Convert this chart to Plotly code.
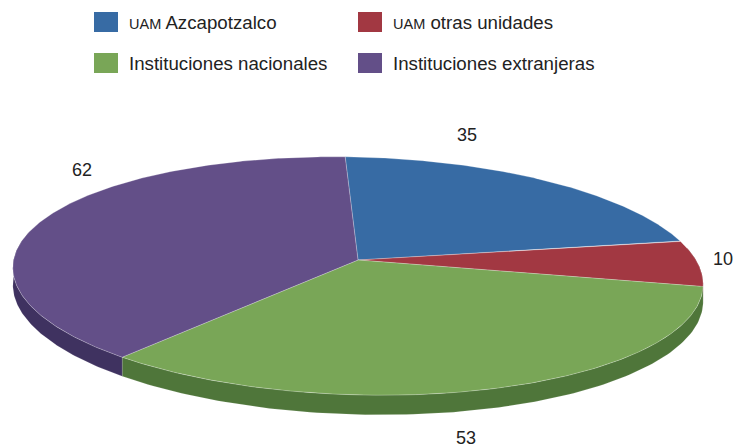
import numpy as np
import plotly.graph_objects as go

# ---- data ----
categories = [
    "<span style='font-size:14.5px'>UAM</span> Azcapotzalco",
    "<span style='font-size:14.5px'>UAM</span> otras unidades",
    "Instituciones nacionales",
    "Instituciones extranjeras",
]
values = [35, 10, 53, 62]
value_labels = [str(v) for v in values]

# ---- style ----
top_colors = ["#376BA4", "#A23842", "#79A657", "#634F88"]
side_colors = ["#264C75", "#72272E", "#4F763A", "#3F3260"]
FONT = "Liberation Sans, Arial, Helvetica, sans-serif"
W, H = 738, 448
apex = (358.0, 260.0)      # projected centre of the pie
fk = 342.0                 # horizontal radius in px
kc = 0.1345                # perspective factor
sin_tilt = 0.3415          # view elevation
skew = 0.024               # slight rotation of the disc
base_depth = 17.0
start_deg = -2.44
label_pos = [(467, 135), (723, 259), (466, 438), (82, 170)]
legend_sq = [(94, 12), (358, 12), (94, 53), (358, 53)]


def pt(phi_deg, thick=False):
    p = np.radians(phi_deg)
    D = 1.0 + kc * np.cos(p)
    sx = fk * np.sin(p) / D
    sy = -fk * sin_tilt * np.cos(p) / D
    x = apex[0] + sx
    y = apex[1] + sy + skew * sx
    if thick:
        y = y + base_depth / D
    return x, y


total = float(sum(values))
angles = [start_deg]
for v in values:
    angles.append(angles[-1] + v / total * 360.0)

fig = go.Figure()

# sides (front part)
for i in range(len(values)):
    t0, t1 = angles[i], angles[i + 1]
    lo, hi = max(t0, 80.0), min(t1, 280.0)
    if hi <= lo:
        continue
    th = np.linspace(lo, hi, 120)
    xt, yt = pt(th)
    xb, yb = pt(th[::-1], thick=True)
    xs = np.concatenate([xt, xb, xt[:1]])
    ys = np.concatenate([yt, yb, yt[:1]])
    fig.add_trace(go.Scatter(x=xs, y=ys, mode="lines", fill="toself",
                             fillcolor=side_colors[i],
                             line=dict(color="rgba(255,255,255,0.2)", width=0.6),
                             hoverinfo="skip", showlegend=False))

# top faces
for i in range(len(values)):
    t0, t1 = angles[i], angles[i + 1]
    th = np.linspace(t0, t1, 240)
    xa, ya = pt(th)
    xs = np.concatenate([[apex[0]], xa, [apex[0]]])
    ys = np.concatenate([[apex[1]], ya, [apex[1]]])
    fig.add_trace(go.Scatter(x=xs, y=ys, mode="lines", fill="toself",
                             fillcolor=top_colors[i],
                             line=dict(color="rgba(255,255,255,0.35)", width=0.7),
                             name=categories[i], hoverinfo="name",
                             showlegend=False))

# value labels
for i, txt in enumerate(value_labels):
    fig.add_annotation(x=label_pos[i][0], y=label_pos[i][1], text=txt,
                       showarrow=False, xref="x", yref="y",
                       font=dict(family=FONT, size=18, color="#222222"))

# legend
for i, name in enumerate(categories):
    x0, y0 = legend_sq[i]
    fig.add_shape(type="rect", x0=x0, y0=y0, x1=x0 + 24, y1=y0 + 20,
                  xref="x", yref="y", fillcolor=top_colors[i], line=dict(width=0))
    fig.add_annotation(x=x0 + 33, y=y0 + 10, text=name, showarrow=False,
                       xanchor="left", yanchor="middle", xref="x", yref="y",
                       font=dict(family=FONT, size=18.7, color="#222222"))

fig.update_layout(
    width=W, height=H,
    margin=dict(l=0, r=0, t=0, b=0),
    paper_bgcolor="white", plot_bgcolor="white",
    xaxis=dict(range=[0, W], visible=False, fixedrange=True),
    yaxis=dict(range=[H, 0], visible=False, fixedrange=True),
    showlegend=False,
)

fig.write_html("out.html", config={"displayModeBar": False},
               post_script="document.body.style.margin='0';document.body.style.overflow='hidden';")
